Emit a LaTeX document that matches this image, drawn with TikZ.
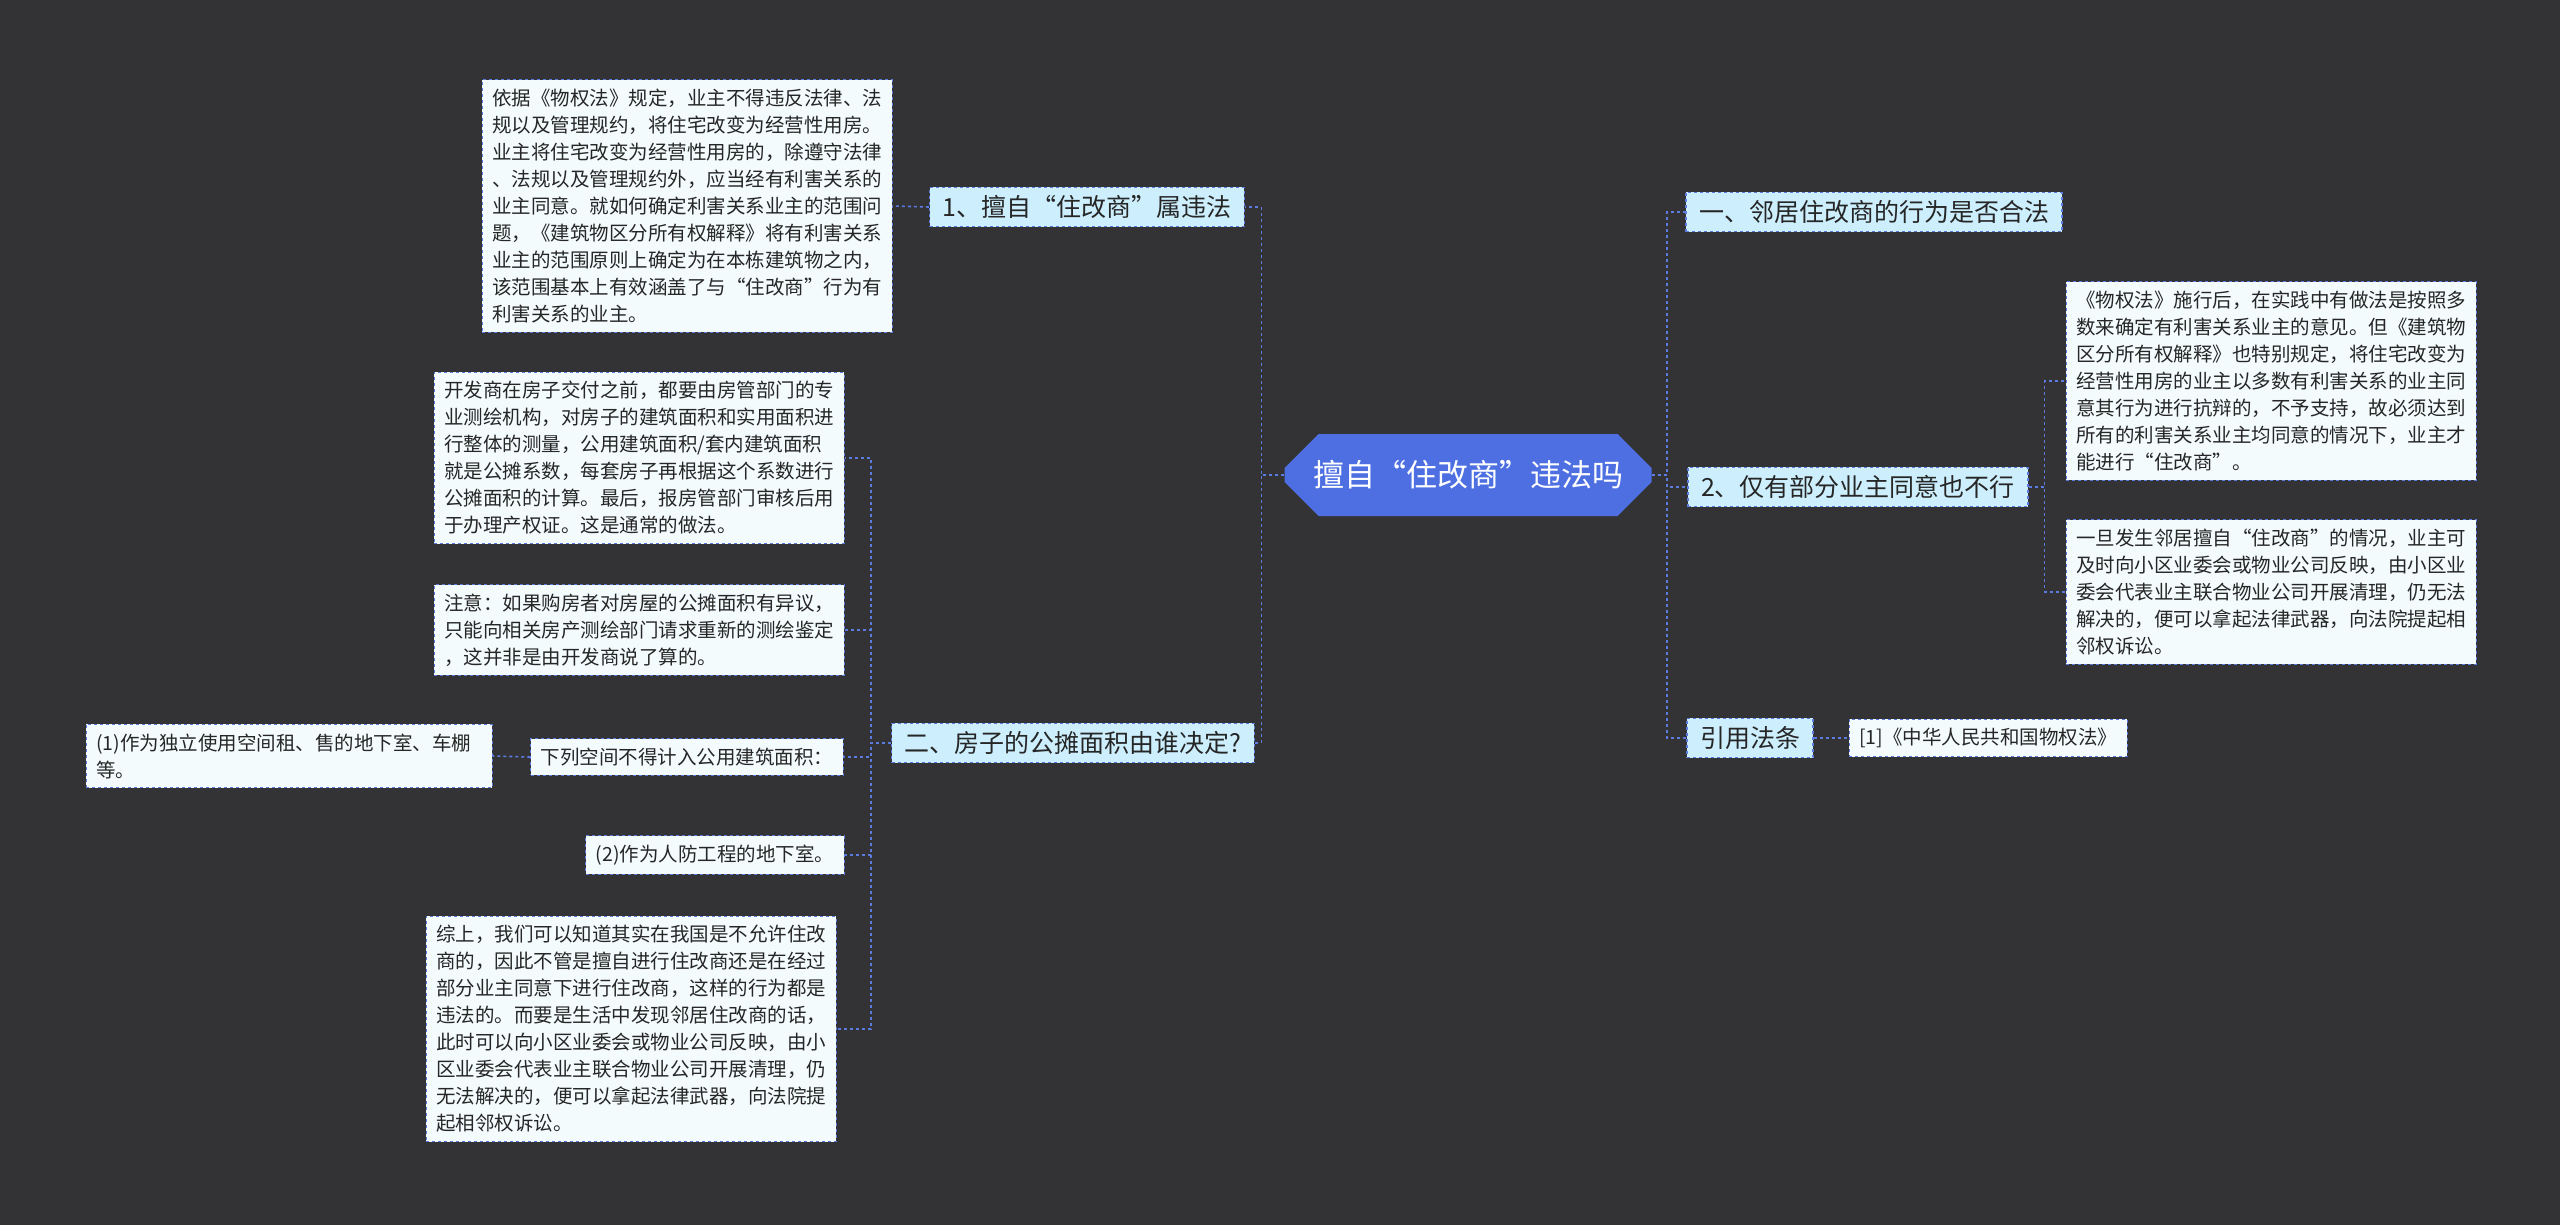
\documentclass[tikz,border=0pt]{standalone}
\usepackage{fontspec}
\setmainfont{Noto Sans CJK SC}
\usetikzlibrary{shapes.misc}
\usetikzlibrary{positioning}
\definecolor{bgcol}{HTML}{333235}
\definecolor{linecol}{HTML}{5B7BE0}
\definecolor{topiccol}{HTML}{CDEFFD}
\definecolor{notecol}{HTML}{F3FBFD}
\definecolor{rootcol}{HTML}{4D6FE2}
\begin{document}
\begin{tikzpicture}[x=1pt,y=-1pt]
\tikzstyle{topic}=[draw=linecol,dashed,line width=1.2pt,fill=topiccol,text=black!85,font=\fontsize{25}{30}\selectfont,inner xsep=13pt,inner ysep=8pt]
\tikzstyle{note}=[draw=linecol,dashed,line width=1pt,fill=notecol,text=black!85,font=\fontsize{19.5}{27}\selectfont,align=left,inner xsep=10pt,inner ysep=9pt]
\tikzstyle{link}=[draw=linecol,dashed,line width=1.6pt]
\fill[bgcol] (0,0) rectangle (2560,1225);
\useasboundingbox (0,0) rectangle (2560,1225);
% centre
\node[chamfered rectangle,chamfered rectangle xsep=14pt,chamfered rectangle ysep=20pt,fill=rootcol,text=white,font=\fontsize{31}{36}\selectfont,minimum width=367pt,minimum height=82pt] (root) at (1468,475) {擅自“住改商”违法吗};
% left side
\node[topic] (law1) at (1087,207) {1、擅自“住改商”属违法};
\node[note] (law1t) at (687,206) {依据《物权法》规定，业主不得违反法律、法\\规以及管理规约，将住宅改变为经营性用房。\\业主将住宅改变为经营性用房的，除遵守法律\\、法规以及管理规约外，应当经有利害关系的\\业主同意。就如何确定利害关系业主的范围问\\题，《建筑物区分所有权解释》将有利害关系\\业主的范围原则上确定为在本栋建筑物之内，\\该范围基本上有效涵盖了与“住改商”行为有\\利害关系的业主。};
\node[topic] (area) at (1073,743) {二、房子的公摊面积由谁决定?};
\node[note] (area1) at (639,458) {开发商在房子交付之前，都要由房管部门的专\\业测绘机构，对房子的建筑面积和实用面积进\\行整体的测量，公用建筑面积/套内建筑面积\\就是公摊系数，每套房子再根据这个系数进行\\公摊面积的计算。最后，报房管部门审核后用\\于办理产权证。这是通常的做法。};
\node[note] (area2) at (639,630) {注意：如果购房者对房屋的公摊面积有异议，\\只能向相关房产测绘部门请求重新的测绘鉴定\\，这并非是由开发商说了算的。};
\node[note] (space) at (687,757) {下列空间不得计入公用建筑面积：};
\node[note,text width=386pt] (space1) at (289,756) {(1)作为独立使用空间租、售的地下室、车棚\\等。};
\node[note] (space2) at (715,855) {(2)作为人防工程的地下室。};
\node[note] (area3) at (631,1029) {综上，我们可以知道其实在我国是不允许住改\\商的，因此不管是擅自进行住改商还是在经过\\部分业主同意下进行住改商，这样的行为都是\\违法的。而要是生活中发现邻居住改商的话，\\此时可以向小区业委会或物业公司反映，由小\\区业委会代表业主联合物业公司开展清理，仍\\无法解决的，便可以拿起法律武器，向法院提\\起相邻权诉讼。};
% right side
\node[topic] (q1) at (1874,212) {一、邻居住改商的行为是否合法};
\node[topic] (q2) at (1858,487) {2、仅有部分业主同意也不行};
\node[note] (q2a) at (2271,381) {《物权法》施行后，在实践中有做法是按照多\\数来确定有利害关系业主的意见。但《建筑物\\区分所有权解释》也特别规定，将住宅改变为\\经营性用房的业主以多数有利害关系的业主同\\意其行为进行抗辩的，不予支持，故必须达到\\所有的利害关系业主均同意的情况下，业主才\\能进行“住改商”。};
\node[note] (q2b) at (2271,592) {一旦发生邻居擅自“住改商”的情况，业主可\\及时向小区业委会或物业公司反映，由小区业\\委会代表业主联合物业公司开展清理，仍无法\\解决的，便可以拿起法律武器，向法院提起相\\邻权诉讼。};
\node[topic] (ref) at (1750,738) {引用法条};
\node[note] (reft) at (1988,738) {[1]《中华人民共和国物权法》};
% links
\draw[link] (root.west) -- ++(-23,0) |- (law1.east);
\draw[link] (root.west) -- ++(-23,0) |- (area.east);
\draw[link] (law1.west) -- (law1t.east);
\foreach \n in {area1,area2,space,space2,area3}
  \draw[link] (area.west) -- ++(-20,0) |- (\n.east);
\draw[link] (space.west) -- (space1.east);
\draw[link] (root.east) -- ++(15,0) |- (q1.west);
\draw[link] (root.east) -- ++(15,0) |- (q2.west);
\draw[link] (root.east) -- ++(15,0) |- (ref.west);
\draw[link] (q2.east) -- ++(16,0) |- (q2a.west);
\draw[link] (q2.east) -- ++(16,0) |- (q2b.west);
\draw[link] (ref.east) -- (reft.west);
\end{tikzpicture}
\end{document}
